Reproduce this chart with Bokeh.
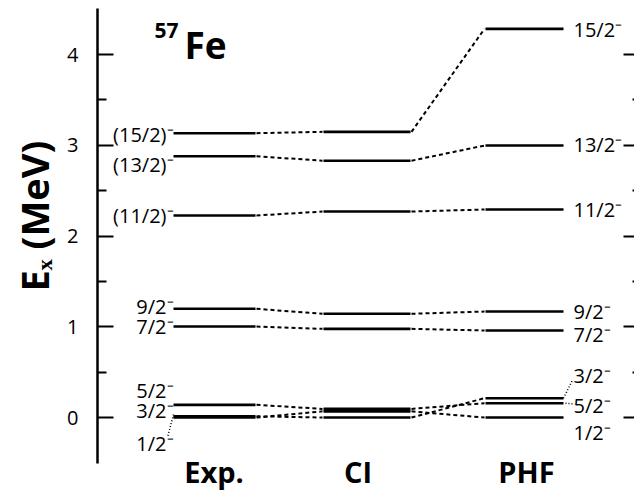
from bokeh.plotting import figure
from bokeh.models import Range1d, LinearAxis, FixedTicker, Title
from bokeh.core.properties import value
from bokeh.embed import file_html
from bokeh.resources import INLINE

# ---------------- data ----------------
states = ["1/2", "3/2", "5/2", "7/2", "9/2", "11/2", "13/2", "15/2"]
exp_mev = [0.0, 0.014, 0.140, 1.003, 1.198, 2.226, 2.879, 3.133]
ci_mev = [0.068, 0.0, 0.095, 0.977, 1.143, 2.270, 2.830, 3.148]
phf_mev = [0.0, 0.213, 0.158, 0.959, 1.168, 2.292, 2.997, 4.283]

exp_labels = ["1/2⁻", "3/2⁻", "5/2⁻", "7/2⁻", "9/2⁻", "(11/2)⁻", "(13/2)⁻", "(15/2)⁻"]
phf_labels = ["1/2⁻", "3/2⁻", "5/2⁻", "7/2⁻", "9/2⁻", "11/2⁻", "13/2⁻", "15/2⁻"]
exp_label_y = [-0.29, 0.077, 0.30, 1.0, 1.22, 2.226, 2.79, 3.12]
phf_label_y = [-0.165, 0.463, 0.132, 0.915, 1.168, 2.29, 3.008, 4.275]

columns = ["Exp.", "CI", "PHF"]
y_ticks = [0, 1, 2, 3, 4]
y_minor = [0.5, 1.5, 2.5, 3.5]

# ---------------- layout ----------------
col_x0 = [76, 226, 388]
col_x1 = [158, 313, 466]
col_label_x = [116.5, 260.5, 429]
FONT = "Open Sans"

p = figure(width=634, height=491, output_backend="svg", toolbar_location=None,
           x_range=Range1d(0, 537), y_range=Range1d(-0.815, 4.507),
           x_axis_type=None, y_axis_type=None,
           min_border_left=97, min_border_right=0, min_border_top=8, min_border_bottom=0)
p.outline_line_color = None
p.grid.visible = False
p.background_fill_color = "white"
p.border_fill_color = "white"

yl = LinearAxis(ticker=FixedTicker(ticks=y_ticks, minor_ticks=y_minor), bounds=(-0.507, 4.507),
                axis_line_width=2.5, axis_line_color="black",
                major_tick_in=16, major_tick_out=0, minor_tick_in=9, minor_tick_out=0,
                major_tick_line_width=2, minor_tick_line_width=2,
                major_tick_line_color="black", minor_tick_line_color="black",
                major_label_text_font=FONT, major_label_text_font_size="20px",
                major_label_text_color="black", major_label_standoff=19)
p.add_layout(yl, "left")

p.add_layout(Title(text="Eₓ (MeV)", align="left", offset=200, text_font=FONT,
                   text_font_style="bold", text_font_size="38px", text_color="black",
                   standoff=10), "left")

yr = LinearAxis(ticker=FixedTicker(ticks=y_ticks, minor_ticks=y_minor), bounds=(-0.507, 4.507),
                axis_line_color=None,
                major_tick_in=11, major_tick_out=0, minor_tick_in=2, minor_tick_out=0,
                major_tick_line_width=2, minor_tick_line_width=2,
                major_tick_line_color="black", minor_tick_line_color="black",
                major_label_overrides={t: "" for t in y_ticks}, major_label_standoff=0)
p.add_layout(yr, "right")

series = [exp_mev, ci_mev, phf_mev]

# levels
lx0, lx1, ly = [], [], []
for c, vals in enumerate(series):
    for v in vals:
        lx0.append(col_x0[c]); lx1.append(col_x1[c]); ly.append(v)
p.segment(x0=lx0, y0=ly, x1=lx1, y1=ly, line_color="black", line_width=2.6)

# dashed connectors
cx0, cy0, cx1, cy1 = [], [], [], []
for c in range(2):
    for j in range(len(states)):
        cx0.append(col_x1[c] + 1); cy0.append(series[c][j])
        cx1.append(col_x0[c + 1] - 1); cy1.append(series[c + 1][j])
p.segment(x0=cx0, y0=cy0, x1=cx1, y1=cy1, line_color="black", line_width=2,
          line_dash="4 3")

# state labels
p.text(x=[col_x0[0]] * len(exp_labels), y=exp_label_y, text=exp_labels,
       text_align="right", text_baseline="middle", text_font=value(FONT),
       text_font_size="20px", text_color="black")
p.text(x=[col_x1[2] + 10] * len(phf_labels), y=phf_label_y, text=phf_labels,
       text_align="left", text_baseline="middle", text_font=value(FONT),
       text_font_size="20px", text_color="black")

# dotted leaders from crowded levels to their labels
i12 = states.index("1/2"); i32 = states.index("3/2"); i52 = states.index("5/2")
p.segment(x0=[col_x0[0], col_x1[2], col_x1[2] + 2],
          y0=[exp_mev[i32] + 0.02, phf_mev[i32], phf_mev[i52]],
          x1=[col_x0[0] - 6, col_x1[2] + 9, col_x1[2] + 9],
          y1=[exp_label_y[i12] + 0.07, phf_label_y[i32] - 0.05, phf_label_y[i52] + 0.02],
          line_color="black", line_width=1.5, line_dash="1 2")

# column names
p.text(x=col_label_x, y=[-0.597] * 3, text=columns, text_align="center",
       text_baseline="middle", text_font=value(FONT), text_font_style="bold",
       text_font_size="29px", text_color="black")

# title 57Fe
p.text(x=[57], y=[4.27], text=["57"], text_align="left", text_baseline="middle",
       text_font=value(FONT), text_font_style="bold", text_font_size="21px", text_color="black")
p.text(x=[87], y=[4.105], text=["Fe"], text_align="left", text_baseline="middle",
       text_font=value(FONT), text_font_style="bold", text_font_size="37px", text_color="black")

open("out.html", "w").write(file_html(p, INLINE))
